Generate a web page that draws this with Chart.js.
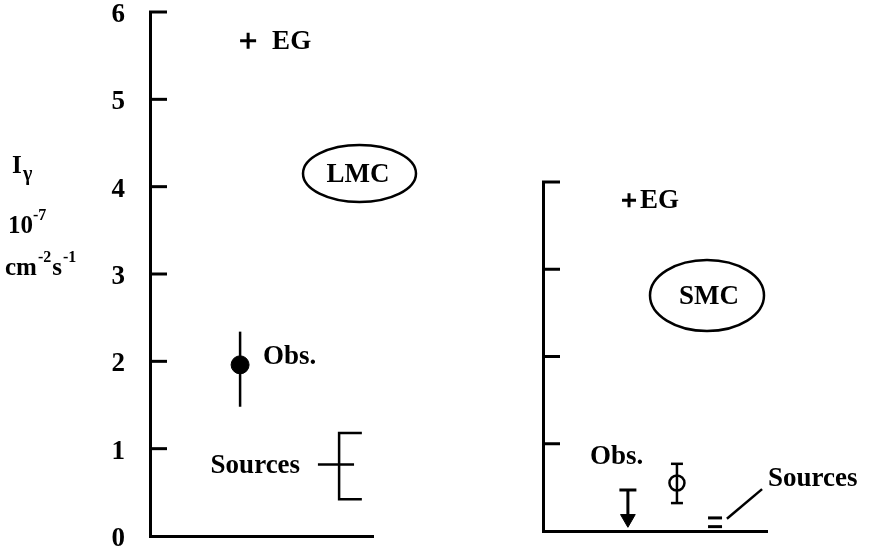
<!DOCTYPE html>
<html><head><meta charset="utf-8">
<script src="https://cdn.jsdelivr.net/npm/chart.js@4/dist/chart.umd.min.js"></script>
<style>
html,body{margin:0;padding:0;background:#fff;}
#wrap{position:relative;width:872px;height:554px;overflow:hidden;background:#fff;}
#c1box{position:absolute;left:0;top:0;width:500px;height:554px;}
#c2box{position:absolute;left:400px;top:0;width:472px;height:554px;}
</style></head><body>
<div id="wrap"><div id="c1box"><canvas id="c1"></canvas></div><div id="c2box"><canvas id="c2"></canvas></div></div>
<script>
// ---------- data (units of 10^-7 cm^-2 s^-1) ----------
const panels = ['LMC', 'SMC'];
const yTicksLMC = [0, 1, 2, 3, 4, 5, 6];
const yTicksSMC = [0, 1, 2, 3, 4];
const obsValue = [1.96, 0.55];
const obsLow = [1.48, 0.32];
const obsHigh = [2.34, 0.77];
const smcUpperLimit = [0.47, 0.14];   // limit bar, arrow head
const sourcesValue = [0.82, 0.10];
const sourcesLow = [0.42, 0.05];
const sourcesHigh = [1.18, 0.15];
const egLevel = [5.67, 3.79];
const sourcesPointer = [0.14, 0.48];
// horizontal slots on the unlabeled x axis (0-100)
const xLMC = {eg: 44, obs: 40.4, sources: 84.8};
const xSMC = {eg: 38.4, limit: 37.9, obs: 59.8, sources: 76.8};

const SERIF = '"Liberation Serif", "DejaVu Serif", serif';
Chart.defaults.font.family = SERIF;
Chart.defaults.color = '#000';

function txt(ctx, s, x, y, size, align) {
  ctx.font = 'bold ' + size + 'px ' + SERIF;
  ctx.textAlign = align || 'left';
  ctx.textBaseline = 'middle';
  ctx.fillStyle = '#000';
  ctx.fillText(s, x, y);
}
function ellipse(ctx, cx, cy, rx, ry) {
  ctx.beginPath();
  ctx.ellipse(cx, cy, rx, ry, 0, 0, Math.PI * 2);
  ctx.lineWidth = 2.5;
  ctx.strokeStyle = '#000';
  ctx.stroke();
}
function inwardTicks(chart, values) {
  const ctx = chart.ctx, y = chart.scales.y, a = chart.chartArea;
  ctx.save();
  ctx.strokeStyle = '#000';
  ctx.lineWidth = 3;
  values.forEach(v => {
    if (v === 0) return;
    const py = y.getPixelForValue(v);
    ctx.beginPath();
    ctx.moveTo(a.left - 1, py);
    ctx.lineTo(a.left + 17, py);
    ctx.stroke();
  });
  ctx.restore();
}

function baseScales(yMax, yW, showLabels, ticksArr) {
  return {
    x: {
      type: 'linear', min: 0, max: 100,
      grid: {display: false},
      ticks: {display: false},
      border: {display: true, color: '#000', width: 3},
      afterFit: s => { s.height = 0; s.paddingLeft = 0; s.paddingRight = 0; }
    },
    y: {
      type: 'linear', min: 0, max: yMax,
      afterBuildTicks: s => { s.ticks = ticksArr.map(v => ({value: v})); },
      grid: {display: false},
      border: {display: true, color: '#000', width: 3},
      ticks: {display: showLabels, color: '#000', padding: 17, labelOffset: 3,
        font: {family: SERIF, size: 27, weight: 'bold'}},
      afterFit: s => { s.width = yW; s.paddingTop = 0; s.paddingBottom = 0; }
    }
  };
}
const seg = (x1, y1, x2, y2) => [{x: x1, y: y1}, {x: x2, y: y2}];
const lineDs = (data, w, extra) => Object.assign({
  data, showLine: true, borderColor: '#000', borderWidth: w || 2.5,
  pointRadius: 0, fill: false, clip: false
}, extra || {});

// ---------- LMC ----------
new Chart(document.getElementById('c1'), {
  type: 'scatter',
  data: {datasets: [
    lineDs(seg(xLMC.obs, obsLow[0], xLMC.obs, obsHigh[0]), 2.5),
    {data: [{x: xLMC.obs, y: obsValue[0]}], pointRadius: 9, pointBackgroundColor: '#000',
     pointBorderColor: '#000', pointBorderWidth: 1, clip: false},
    lineDs([{x: xLMC.sources + 10.2, y: sourcesHigh[0]}, {x: xLMC.sources, y: sourcesHigh[0]},
            {x: xLMC.sources, y: sourcesLow[0]}, {x: xLMC.sources + 10.2, y: sourcesLow[0]}], 2.5),
    lineDs(seg(xLMC.sources - 9.5, sourcesValue[0], xLMC.sources + 6.7, sourcesValue[0]), 2.5),
    {data: [{x: xLMC.eg, y: egLevel[0]}], pointStyle: 'cross', pointRadius: 8,
     pointBorderColor: '#000', pointBorderWidth: 3, clip: false}
  ]},
  options: {
    responsive: true, maintainAspectRatio: false, animation: false, devicePixelRatio: 1,
    layout: {padding: {top: 12, bottom: 18, left: 0, right: 127}},
    plugins: {legend: {display: false}, tooltip: {enabled: false}},
    scales: baseScales(6, 150, true, yTicksLMC)
  },
  plugins: [{
    id: 'lmcDeco',
    afterDraw(chart) {
      const ctx = chart.ctx;
      inwardTicks(chart, yTicksLMC);
      const xs = chart.scales.x, ys = chart.scales.y;
      txt(ctx, 'EG', xs.getPixelForValue(xLMC.eg) + 24, ys.getPixelForValue(egLevel[0]) + 1, 27);
      ellipse(ctx, 359.5, 173.5, 56.5, 28.5);
      txt(ctx, panels[0], 358, 175, 27, 'center');
      txt(ctx, 'Obs.', xs.getPixelForValue(xLMC.obs) + 23, ys.getPixelForValue(obsValue[0]) - 8, 27);
      txt(ctx, 'Sources', xs.getPixelForValue(xLMC.sources) - 39, ys.getPixelForValue(sourcesValue[0]) + 2, 27, 'right');
      // y-axis title
      ctx.textBaseline = 'alphabetic';
      ctx.textAlign = 'left';
      ctx.font = 'bold 25px ' + SERIF; ctx.fillText('I', 12, 173);
      ctx.font = 'bold 20px ' + SERIF; ctx.fillText('γ', 23, 180);
      ctx.font = 'bold 25px ' + SERIF; ctx.fillText('10', 8, 233);
      let w = ctx.measureText('10').width;
      ctx.font = 'bold 16px ' + SERIF; ctx.fillText('-7', 8 + w, 220);
      ctx.font = 'bold 25px ' + SERIF; ctx.fillText('cm', 5, 275);
      let x = 5 + ctx.measureText('cm').width + 1;
      ctx.font = 'bold 16px ' + SERIF; ctx.fillText('-2', x, 262);
      x += ctx.measureText('-2').width + 1;
      ctx.font = 'bold 25px ' + SERIF; ctx.fillText('s', x, 275);
      x += ctx.measureText('s').width + 1;
      ctx.font = 'bold 16px ' + SERIF; ctx.fillText('-1', x, 262);
    }
  }]
});

// ---------- SMC ----------
new Chart(document.getElementById('c2'), {
  type: 'scatter',
  data: {datasets: [
    lineDs(seg(xSMC.limit, smcUpperLimit[0], xSMC.limit, smcUpperLimit[1]), 3, {
      pointRadius: [8.5, 8.5], pointStyle: ['line', 'triangle'], pointRotation: [0, 180],
      pointBackgroundColor: '#000', pointBorderColor: '#000', pointBorderWidth: [3, 1]}),
    lineDs(seg(xSMC.obs, obsLow[1], xSMC.obs, obsHigh[1]), 2.5, {
      pointRadius: 6, pointStyle: 'line', pointBorderColor: '#000', pointBorderWidth: 2.5}),
    {data: [{x: xSMC.obs, y: obsValue[1]}], pointRadius: 7.5, pointBackgroundColor: '#fff',
     pointBorderColor: '#000', pointBorderWidth: 2.5, clip: false},
    {data: [{x: xSMC.sources, y: sourcesLow[1]}, {x: xSMC.sources, y: sourcesHigh[1]}],
     pointStyle: 'line', pointRadius: 7, pointBorderColor: '#000', pointBorderWidth: 3, clip: false},
    lineDs(seg(82.1, sourcesPointer[0], 97.8, sourcesPointer[1]), 2.5),
    {data: [{x: xSMC.eg, y: egLevel[1]}], pointStyle: 'cross', pointRadius: 7,
     pointBorderColor: '#000', pointBorderWidth: 3, clip: false}
  ]},
  options: {
    responsive: true, maintainAspectRatio: false, animation: false, devicePixelRatio: 1,
    layout: {padding: {top: 182, bottom: 23, left: 0, right: 105}},
    plugins: {legend: {display: false}, tooltip: {enabled: false}},
    scales: baseScales(4, 143, false, yTicksSMC)
  },
  plugins: [{
    id: 'smcDeco',
    afterDraw(chart) {
      const ctx = chart.ctx;
      inwardTicks(chart, yTicksSMC);
      const xs = chart.scales.x, ys = chart.scales.y;
      txt(ctx, 'EG', xs.getPixelForValue(xSMC.eg) + 11, ys.getPixelForValue(egLevel[1]) + 1, 27);
      ellipse(ctx, 307, 295.5, 57, 35.5);
      txt(ctx, panels[1], 309, 297, 27, 'center');
      txt(ctx, 'Obs.', 190, 457, 27);
      txt(ctx, 'Sources', 368, 479, 27);
    }
  }]
});
</script>
</body></html>
